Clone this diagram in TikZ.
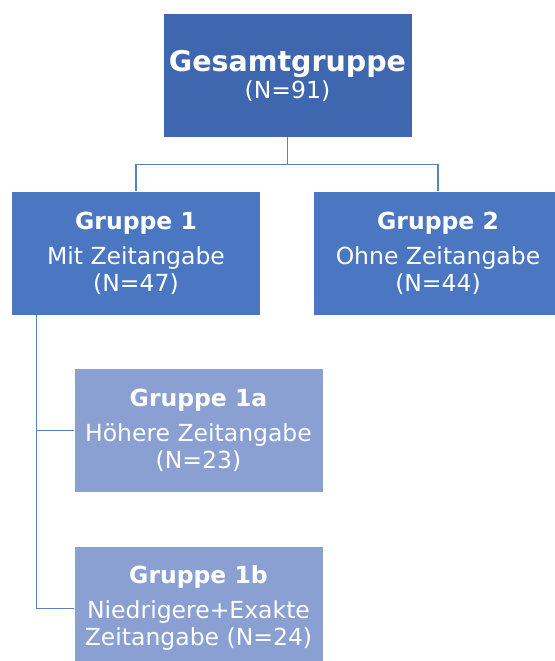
\documentclass[tikz,border=0pt]{standalone}
\usepackage{fontspec}
\setmainfont{DejaVu Sans}
\usetikzlibrary{positioning,calc}
\definecolor{topblue}{HTML}{3F67AF}
\definecolor{grpblue}{HTML}{4A76C2}
\definecolor{subblue}{HTML}{8AA0D2}
\definecolor{linecol}{HTML}{5A80C6}
\tikzset{
box/.style = {rectangle, minimum width=248pt, minimum height=123pt, text=white, align=center, inner sep=0pt, font=\fontsize{23.5}{27}\selectfont},
topbox/.style = {box, fill=topblue},
grpbox/.style = {box, fill=grpblue},
subbox/.style = {box, fill=subblue},
tmp/.style = {coordinate},
conn/.style = {draw=linecol, line width=1.2pt}
}

\begin{document}
\begin{tikzpicture}[node distance=177.5pt]
	\useasboundingbox (0pt,0pt) rectangle (554pt,-661pt);
	\node[topbox] (gesamt) at (287.5pt,-75.5pt) {{\fontsize{28.5}{30}\selectfont\textbf{Gesamtgruppe}}\\(N=91)};
	\node[grpbox, below of=gesamt, xshift=-151.5pt] (g1) {\textbf{Gruppe 1}\\[8pt]Mit Zeitangabe\\(N=47)};
	\node[grpbox, right of=g1, node distance=302pt] (g2) {\textbf{Gruppe 2}\\[8pt]Ohne Zeitangabe\\(N=44)};
	\node[subbox, below of=g1, xshift=62.5pt] (g1a) {\textbf{Gruppe 1a}\\[8pt]Höhere Zeitangabe\\(N=23)};
	\node[subbox, below of=g1a, node distance=178pt] (g1b) {\textbf{Gruppe 1b}\\[8pt]Niedrigere+Exakte\\Zeitangabe (N=24)};
	\node[tmp] (split) at ($(gesamt.south)+(0,-27pt)$) {};
	\node[tmp] (trunk) at ($(g1.south west)+(25pt,0)$) {};
	\draw[conn] (gesamt.south) -- (split) -| (g1.north);
	\draw[conn] (split) -| (g2.north);
	\draw[conn] (trunk) |- (g1a.west);
	\draw[conn] (trunk) |- (g1b.west);
\end{tikzpicture}
\end{document}
